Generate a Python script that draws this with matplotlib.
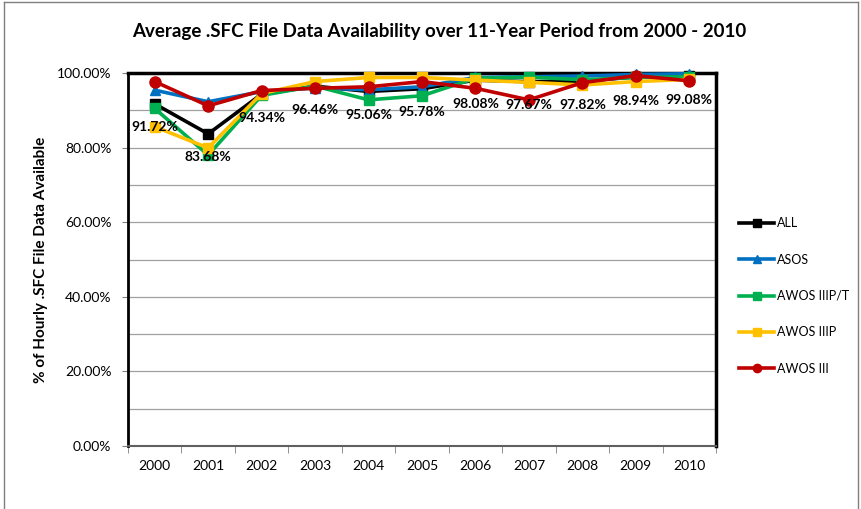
import matplotlib
matplotlib.use("Agg")
import matplotlib.pyplot as plt
from matplotlib.lines import Line2D
import numpy as np

years = ["2000", "2001", "2002", "2003", "2004", "2005", "2006", "2007", "2008", "2009", "2010"]
all_vals = [91.72, 83.68, 94.34, 96.46, 95.06, 95.78, 98.08, 97.67, 97.82, 98.94, 99.08]
asos = [95.4, 92.3, 95.0, 96.0, 95.5, 96.3, 98.8, 99.0, 99.2, 99.6, 99.8]
awos_iiipt = [90.5, 78.0, 94.0, 96.5, 92.8, 93.9, 98.6, 98.9, 98.2, 98.8, 99.0]
awos_iiip = [85.6, 79.9, 94.5, 97.7, 98.8, 98.8, 98.1, 97.5, 96.8, 97.7, 98.3]
awos_iii = [97.7, 91.2, 95.3, 95.9, 96.3, 97.7, 95.9, 92.8, 97.4, 99.3, 97.9]
series_names = ["ALL", "ASOS", "AWOS IIIP/T", "AWOS IIIP", "AWOS III"]
y_ticks = [0, 20, 40, 60, 80, 100]

plt.rcParams['font.family'] = ['Lato', 'DejaVu Sans']

fig = plt.figure(figsize=(8.62, 5.09), dpi=100)
ax = fig.add_axes([128/862, 1-446/509, (716-128)/862, (446-73)/509])

x = np.arange(len(years))
styles = [
    (all_vals, "#000000", "s", 7),
    (asos, "#0070C0", "^", 7),
    (awos_iiipt, "#00B050", "s", 7),
    (awos_iiip, "#FFC000", "s", 7),
    (awos_iii, "#C00000", "o", 8),
]
handles = []
for (vals, col, mk, ms), name in zip(styles, series_names):
    ax.plot(x, vals, color=col, lw=2.6, marker=mk, ms=ms, zorder=3, clip_on=False)
    handles.append(Line2D([0], [0], color=col, lw=2.6, marker=mk, ms=6))

for xi, v in zip(x, all_vals):
    ax.annotate(f"{v:.2f}%", (xi, v), xytext=(0, -17), textcoords="offset points",
                ha="center", va="center", fontsize=10, fontweight="bold", zorder=5)

ax.set_xlim(-0.5, 10.5)
ax.set_ylim(0, 100)
ax.set_yticks(y_ticks)
ax.set_yticklabels([f"{t:.2f}%" for t in y_ticks], fontsize=10)
ax.set_yticks(np.arange(0, 101, 10), minor=True)
ax.yaxis.grid(True, which="both", color="#a0a0a0", lw=0.9)
ax.set_axisbelow(True)
ax.tick_params(axis="y", which="minor", length=0)
ax.tick_params(axis="y", which="major", length=4, color="#808080", pad=8)

ax.set_xticks(x)
ax.set_xticklabels(years, fontsize=10)
ax.tick_params(axis="x", which="major", length=0, pad=10)
ax.set_xticks(np.arange(-0.5, 11, 1), minor=True)
ax.tick_params(axis="x", which="minor", length=5, color="#808080")

for s in ["top", "right", "left"]:
    ax.spines[s].set_color("black")
    ax.spines[s].set_linewidth(2.5)
ax.spines["left"].set_linewidth(2.0)
ax.spines["bottom"].set_color("#606060")
ax.spines["bottom"].set_linewidth(1.5)

ax.set_ylabel("% of Hourly .SFC File Data Available", fontsize=11, fontweight="bold", labelpad=6)
fig.text(439/862, 1-32/509, "Average .SFC File Data Availability over 11-Year Period from 2000 - 2010",
         ha="center", va="center", fontsize=13.5, fontweight="bold")

leg = fig.legend(handles, series_names, loc="center left", bbox_to_anchor=(728/862, 1-296/509),
                 frameon=False, fontsize=9, handlelength=2.8, handletextpad=0.2, labelspacing=1.95)

# figure border
fig.add_artist(Line2D([4/862, 4/862], [0, 1-2/509], color="#7f7f7f", lw=1))
fig.add_artist(Line2D([4/862, 858/862], [1-2/509, 1-2/509], color="#7f7f7f", lw=1))
fig.add_artist(Line2D([858/862, 858/862], [0, 1-2/509], color="#7f7f7f", lw=1))

fig.savefig("out.png", dpi=100)
